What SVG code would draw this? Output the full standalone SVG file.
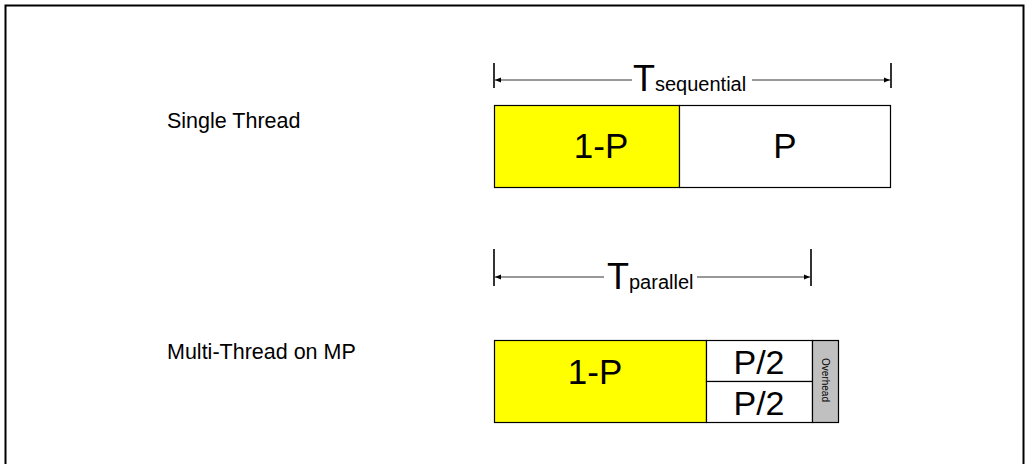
<svg xmlns="http://www.w3.org/2000/svg" width="1028" height="464" viewBox="0 0 1028 464">
<defs>
<style>
.box{stroke:#000;stroke-width:1.2}
.y{fill:#ffff00}
.w{fill:#fff}
.g{fill:#c0c0c0}
.t{font-family:"Liberation Sans",Arial,sans-serif;fill:#000}
.dim{stroke:#333;stroke-width:1;fill:none}
.tick{stroke:#000;stroke-width:1.6}
</style>
<marker id="ah" viewBox="0 0 10 10" refX="10" refY="5" markerWidth="12" markerHeight="6" markerUnits="userSpaceOnUse" orient="auto-start-reverse">
<path d="M0,1 L10,5 L0,9 Z" fill="#000"/>
</marker>
</defs>
<rect width="1028" height="464" fill="#fff"/>
<rect x="5.5" y="5.5" width="1018" height="470" fill="none" stroke="#000" stroke-width="2"/>

<g id="label-single">
<text class="t" x="167" y="128" font-size="21.5">Single Thread</text>
</g>
<g id="label-multi">
<text class="t" x="167" y="359" font-size="21.5">Multi-Thread on MP</text>
</g>

<g id="connectors">
<line class="tick" x1="494" y1="63" x2="494" y2="88"/>
<line class="tick" x1="891" y1="63" x2="891" y2="88"/>
<line class="dim" x1="495" y1="80" x2="632" y2="80" marker-start="url(#ah)"/>
<line class="dim" x1="752" y1="80" x2="890" y2="80" marker-end="url(#ah)"/>
<line class="tick" x1="494" y1="249" x2="494" y2="286"/>
<line class="tick" x1="811" y1="249" x2="811" y2="286"/>
<line class="dim" x1="495" y1="277" x2="604" y2="277" marker-start="url(#ah)"/>
<line class="dim" x1="697" y1="277" x2="810" y2="277" marker-end="url(#ah)"/>
</g>

<g id="t-sequential">
<text class="t" x="633" y="91"><tspan font-size="36">T</tspan><tspan font-size="20">sequential</tspan></text>
</g>
<g id="t-parallel">
<text class="t" x="607" y="289"><tspan font-size="36">T</tspan><tspan font-size="20">parallel</tspan></text>
</g>

<g id="seq-serial">
<rect class="box y" x="494.5" y="105.5" width="185" height="82"/>
<text class="t" x="601" y="158" font-size="35" text-anchor="middle">1-P</text>
</g>
<g id="seq-parallel">
<rect class="box w" x="679.5" y="105.5" width="211" height="82"/>
<text class="t" x="785" y="158" font-size="35" text-anchor="middle">P</text>
</g>

<g id="par-serial">
<rect class="box y" x="494.5" y="340.5" width="212" height="82"/>
<text class="t" x="595" y="384" font-size="35" text-anchor="middle">1-P</text>
</g>
<g id="par-p1">
<rect class="box w" x="706.5" y="340.5" width="106" height="41"/>
<text class="t" x="759" y="374" font-size="34" text-anchor="middle">P/2</text>
</g>
<g id="par-p2">
<rect class="box w" x="706.5" y="381.5" width="106" height="41"/>
<text class="t" x="759" y="415" font-size="34" text-anchor="middle">P/2</text>
</g>
<g id="overhead">
<rect class="box g" x="812.5" y="340.5" width="26" height="82"/>
<text class="t" font-size="10" text-anchor="middle" transform="translate(822,380) rotate(90)">Overhead</text>
</g>
</svg>
